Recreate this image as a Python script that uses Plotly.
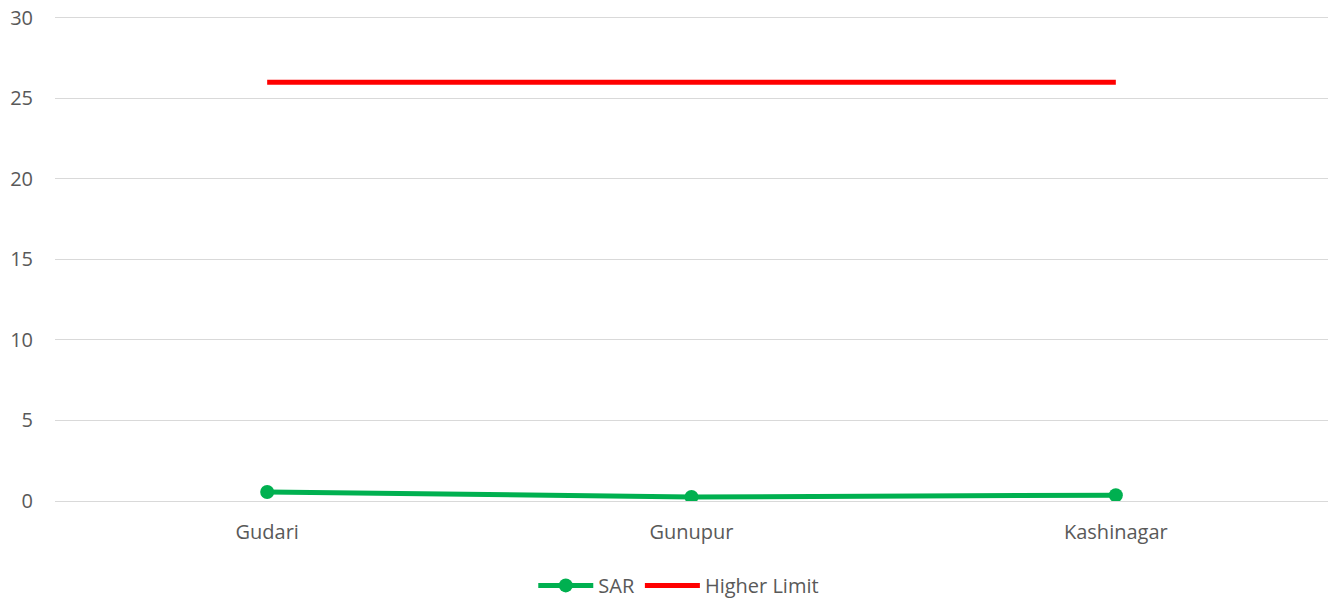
import plotly.graph_objects as go

categories = ["Gudari", "Gunupur", "Kashinagar"]
sar = [0.56, 0.25, 0.36]
higher_limit = [26, 26, 26]
y_ticks = [0, 5, 10, 15, 20, 25, 30]

fig = go.Figure()
fig.add_trace(go.Scatter(
    x=categories, y=sar, name="SAR", mode="lines+markers",
    line=dict(color="#00B050", width=5),
    marker=dict(color="#00B050", size=14),
))
fig.add_trace(go.Scatter(
    x=categories, y=higher_limit, name="Higher Limit", mode="lines",
    line=dict(color="#FF0000", width=5),
))

tfont = dict(family="Open Sans, Calibri, sans-serif", size=20, color="#595959")
fig.update_layout(
    width=1338, height=601,
    margin=dict(l=55, r=10, t=12.5, b=100.3, autoexpand=False),
    paper_bgcolor="white", plot_bgcolor="white",
    font=tfont,
    showlegend=True,
    legend=dict(orientation="h", x=0.49, xanchor="center", y=-0.173, yanchor="middle",
                font=tfont, itemwidth=55),
    xaxis=dict(type="category", range=[-0.5, 2.5], showgrid=False, showline=False,
               zeroline=False, ticks="", ticklabelstandoff=17, tickfont=tfont,
               automargin=False),
    yaxis=dict(range=[0, 30.3], tickvals=y_ticks, showgrid=True, gridcolor="#D9D9D9",
               gridwidth=1.3, zeroline=True, zerolinecolor="#D9D9D9", zerolinewidth=1.3,
               showline=False, ticks="", ticklabelstandoff=21, tickfont=tfont,
               ticklabeloverflow="allow", automargin=False),
)
fig.write_html("out.html", config={"displayModeBar": False},
               post_script="document.body.style.margin='0';")
